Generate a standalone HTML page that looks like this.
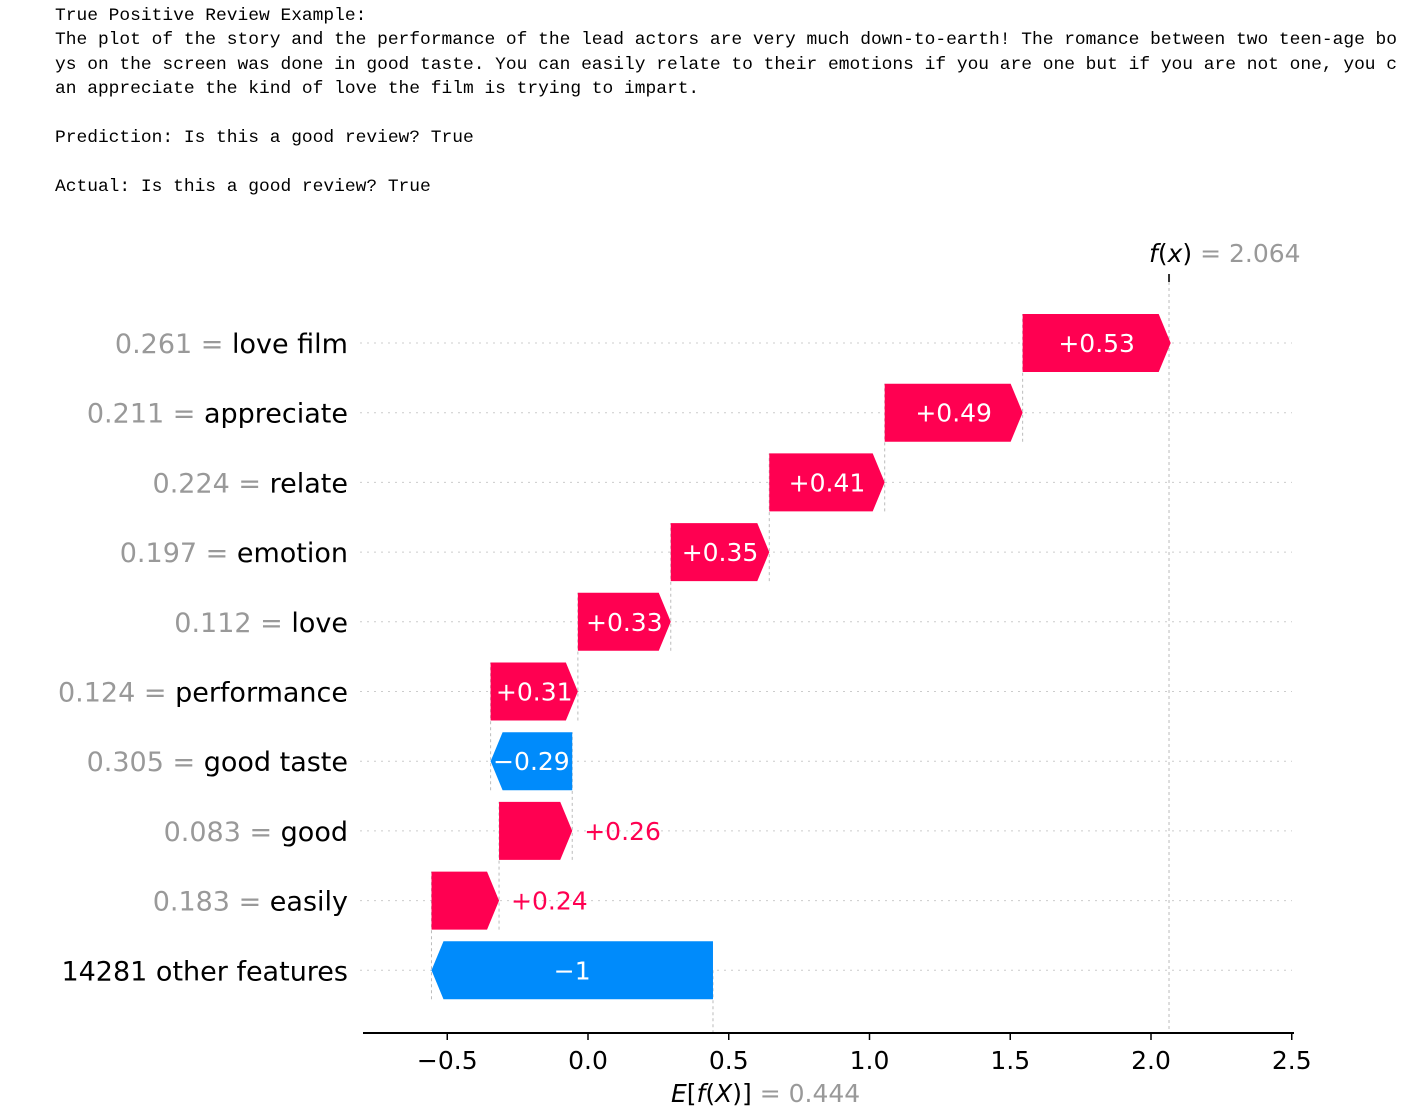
<!DOCTYPE html>
<html><head><meta charset="utf-8">
<style>
body{margin:0;background:#fff;width:1425px;height:1114px;overflow:hidden;position:relative}
pre{position:absolute;left:55px;top:4px;margin:0;font-family:"Liberation Mono",monospace;font-size:17.9px;line-height:24.4px;color:#000}
svg{position:absolute;left:0;top:0}
</style></head><body>
<pre>True Positive Review Example:
The plot of the story and the performance of the lead actors are very much down-to-earth! The romance between two teen-age bo
ys on the screen was done in good taste. You can easily relate to their emotions if you are one but if you are not one, you c
an appreciate the kind of love the film is trying to impart.

Prediction: Is this a good review? True

Actual: Is this a good review? True</pre>
<svg id="chart" width="1425" height="1114" font-family="DejaVu Sans, sans-serif"></svg>
<script>
const featureNames = ["love film","appreciate","relate","emotion","love","performance","good taste","good","easily","14281 other features"];
const featureValues = ["0.261","0.211","0.224","0.197","0.112","0.124","0.305","0.083","0.183",""];
const shapValues = [0.526,0.49,0.41,0.35,0.33,0.31,-0.29,0.26,0.24,-1];
const shapLabels = ["+0.53","+0.49","+0.41","+0.35","+0.33","+0.31","\u22120.29","+0.26","+0.24","\u22121"];
const baseValue = 0.444;
const fxValue = 2.064;
const xTicks = [-0.5,0,0.5,1,1.5,2,2.5];
const xTickLabels = ["\u22120.5","0.0","0.5","1.0","1.5","2.0","2.5"];

const NS="http://www.w3.org/2000/svg";
const svg=document.getElementById('chart');
const X=v=>588+v*281.5;
const rowY=i=>343+i*69.7;
const H=58, AH=12;
function el(t,a,txt){const e=document.createElementNS(NS,t);for(const k in a)e.setAttribute(k,a[k]);if(txt!==undefined)e.textContent=txt;svg.appendChild(e);return e;}

featureNames.forEach((n,i)=>{
  const g=el('line',{x1:360,x2:1292,y1:rowY(i),y2:rowY(i),stroke:'#ccc','stroke-width':1,'stroke-dasharray':'2,5'});
  
  
});
let l=el('line',{x1:X(fxValue),x2:X(fxValue),y1:282,y2:1032,stroke:'#bbb','stroke-width':1,'stroke-dasharray':'3,3'});


l=el('line',{x1:X(fxValue),x2:X(fxValue),y1:274,y2:282,stroke:'#333','stroke-width':2});


l=el('line',{x1:X(baseValue),x2:X(baseValue),y1:rowY(9),y2:1032,stroke:'#bbb','stroke-width':1,'stroke-dasharray':'3,3'});



let cur=baseValue;
for(let i=featureNames.length-1;i>=0;i--){
  const v=shapValues[i];const s=cur, e=cur+v; cur=e;
  const y=rowY(i), t=y-H/2, b=y+H/2;
  const xs=X(s), xe=X(e);
  const pos=v>0;
  const col=pos?'#ff0051':'#008bfb';
  let pts;
  const ah=Math.min(AH,Math.abs(xe-xs));
  if(pos) pts=`${xs},${t} ${xe-ah},${t} ${xe},${y} ${xe-ah},${b} ${xs},${b}`;
  else pts=`${xs},${t} ${xe+ah},${t} ${xe},${y} ${xe+ah},${b} ${xs},${b}`;
  const p=el('polygon',{points:pts,fill:col});
  
  
  if(i>0){
    const c=el('line',{x1:X(e),x2:X(e),y1:b,y2:rowY(i-1)-H/2,stroke:'#bbb','stroke-width':1,'stroke-dasharray':'3,3'});
    
    
  }
  const w=Math.abs(xe-xs);
  let tx;
  if(w>78){
    tx=el('text',{x:(xs+xe)/2,y:y+9,'font-size':25,fill:'#fff','text-anchor':'middle'},shapLabels[i]);
  } else {
    tx=el('text',{x:Math.max(xs,xe)+12,y:y+9,'font-size':25,fill:col,'text-anchor':'start'},shapLabels[i]);
  }
  
  
  const lab=el('text',{x:348,y:y+10,'font-size':27,'text-anchor':'end'});
  
  
  if(featureValues[i]){
    const a=document.createElementNS(NS,'tspan');a.setAttribute('fill','#999');a.textContent=featureValues[i]+' = ';lab.appendChild(a);
  }
  const bb=document.createElementNS(NS,'tspan');bb.setAttribute('fill','#000');bb.textContent=featureNames[i];lab.appendChild(bb);
}
l=el('line',{x1:363,x2:1294,y1:1033,y2:1033,stroke:'#000','stroke-width':2});


xTicks.forEach((v,i)=>{
  const t=el('line',{x1:X(v),x2:X(v),y1:1033,y2:1040,stroke:'#000','stroke-width':1.5});
  
  
  const tl=el('text',{x:X(v),y:1069,'font-size':25,'text-anchor':'middle',fill:'#000'},xTickLabels[i]);
  
  
});
let ef=el('text',{x:X(baseValue)-42,y:1102,'font-size':25,fill:'#000'});


ef.innerHTML='<tspan font-style="italic">E</tspan>[<tspan font-style="italic">f</tspan>(<tspan font-style="italic">X</tspan>)] <tspan fill="#999"> = '+baseValue+'</tspan>';
let fx=el('text',{x:X(fxValue)-20,y:262,'font-size':25,fill:'#000'});


fx.innerHTML='<tspan font-style="italic">f</tspan>(<tspan font-style="italic">x</tspan>)<tspan fill="#999"> = '+fxValue+'</tspan>';
</script>
</body></html>
